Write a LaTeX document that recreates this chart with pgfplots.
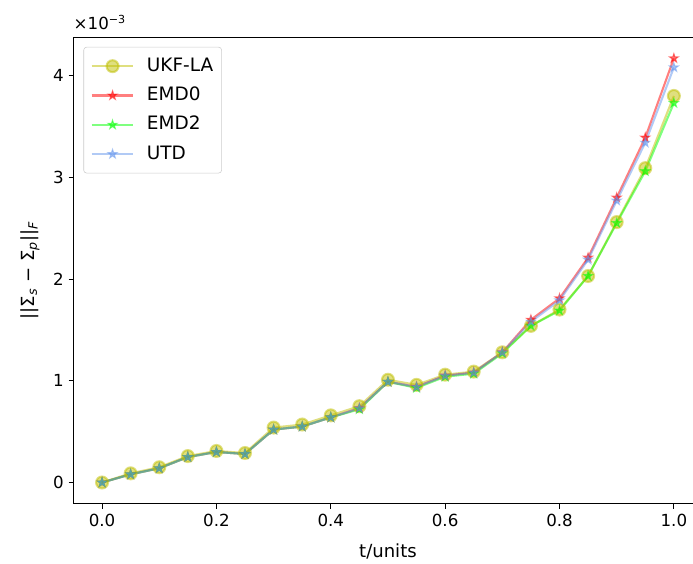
\documentclass[border=0pt]{standalone}
\usepackage{fontspec}
\setmainfont{DejaVu Sans}
\usepackage{pgfplots}
\pgfplotsset{compat=1.18}
\usetikzlibrary{calc}
\definecolor{ukf}{rgb}{0.75,0.75,0}
\definecolor{emdr}{rgb}{1,0,0}
\definecolor{emdg}{rgb}{0,1,0}
\definecolor{utd}{rgb}{0.392,0.584,0.929}
\pgfdeclareplotmark{fstar}{%
  \pgfpathmoveto{\pgfpointpolar{90}{\pgfplotmarksize}}%
  \pgfpathlineto{\pgfpointpolar{126}{0.382\pgfplotmarksize}}%
  \pgfpathlineto{\pgfpointpolar{162}{\pgfplotmarksize}}%
  \pgfpathlineto{\pgfpointpolar{198}{0.382\pgfplotmarksize}}%
  \pgfpathlineto{\pgfpointpolar{234}{\pgfplotmarksize}}%
  \pgfpathlineto{\pgfpointpolar{270}{0.382\pgfplotmarksize}}%
  \pgfpathlineto{\pgfpointpolar{306}{\pgfplotmarksize}}%
  \pgfpathlineto{\pgfpointpolar{342}{0.382\pgfplotmarksize}}%
  \pgfpathlineto{\pgfpointpolar{18}{\pgfplotmarksize}}%
  \pgfpathlineto{\pgfpointpolar{54}{0.382\pgfplotmarksize}}%
  \pgfpathclose
  \pgfusepathqfillstroke}
\pgfplotstableread{
t ukf emd0 emd2 utd
0.00 0.00 0.00 0.00 0.00
0.05 0.09 0.08 0.08 0.08
0.10 0.15 0.14 0.14 0.14
0.15 0.26 0.25 0.25 0.25
0.20 0.31 0.30 0.30 0.30
0.25 0.29 0.28 0.28 0.28
0.30 0.54 0.52 0.52 0.52
0.35 0.57 0.55 0.55 0.55
0.40 0.66 0.64 0.64 0.64
0.45 0.75 0.73 0.72 0.73
0.50 1.01 0.99 0.99 0.99
0.55 0.96 0.94 0.93 0.94
0.60 1.06 1.05 1.04 1.05
0.65 1.09 1.08 1.07 1.08
0.70 1.28 1.28 1.27 1.28
0.75 1.54 1.60 1.54 1.58
0.80 1.70 1.81 1.69 1.79
0.85 2.03 2.21 2.03 2.19
0.90 2.56 2.80 2.55 2.77
0.95 3.09 3.39 3.06 3.34
1.00 3.80 4.17 3.73 4.08
}\datatable
\begin{document}
\begin{tikzpicture}
\begin{axis}[
  name=ax,
  scale only axis,
  width=452.9pt, height=336.2pt,
  xmin=-0.05, xmax=1.05,
  ymin=-0.21, ymax=4.38,
  xtick={0,0.2,0.4,0.6,0.8,1.0},
  ytick={0,1,2,3,4},
  xticklabel style={/pgf/number format/.cd,fixed,fixed zerofill,precision=1},
  /pgf/number format/assume math mode=true,
  tick align=outside,
  xtick pos=bottom, ytick pos=left,
  major tick length=3.5pt,
  tick style={black, line width=0.6pt},
  axis line style={line width=0.6pt},
  ticklabel style={font=\fontsize{12}{14}\selectfont},
  label style={font=\fontsize{13}{15}\selectfont},
  xlabel={t/units},
  ylabel={||Σ\textsubscript{\textit{s}} − Σ\textsubscript{\textit{p}}||\textsubscript{\textit{F}}},
  xlabel style={yshift=-6pt},
  ylabel style={yshift=3pt},
  legend cell align=left,
  legend style={at={(0,1)}, anchor=north west, xshift=7.2pt, yshift=-7.2pt,
    draw=black!20, rounded corners=2pt, fill=white, fill opacity=0.8, text opacity=1,
    font=\fontsize{13.3}{15}\selectfont, inner xsep=5pt, inner ysep=6.5pt,
    nodes={inner sep=1pt, text height=9.7pt, text depth=2.6pt},
    row sep=6.8pt, /tikz/every odd column/.append style={column sep=8pt}},
  legend image code/.code={\draw[mark repeat=2,mark phase=2] plot coordinates {(0pt,0pt) (15pt,0pt) (30pt,0pt)};},
]
\addplot[ukf, opacity=0.5, line width=1.5pt, mark=*, mark size=4.3pt, mark options={solid}] table[x=t,y=ukf]{\datatable};
\addlegendentry{UKF-LA}
\addplot[emdr, opacity=0.5, line width=1.5pt, mark=fstar, mark size=3.3pt, mark options={solid,fill=emdr,line width=0.8pt}] table[x=t,y=emd0]{\datatable};
\addlegendentry{EMD0}
\addplot[emdg, opacity=0.5, line width=1.5pt, mark=fstar, mark size=3.3pt, mark options={solid,fill=emdg,line width=0.8pt}] table[x=t,y=emd2]{\datatable};
\addlegendentry{EMD2}
\addplot[utd, opacity=0.5, line width=1.5pt, mark=fstar, mark size=3.3pt, mark options={solid,fill=utd,line width=0.8pt}] table[x=t,y=utd]{\datatable};
\addlegendentry{UTD}
\end{axis}
\node[anchor=south west, inner sep=0pt, font=\fontsize{12}{14}\selectfont] at ($(ax.north west)+(0pt,5pt)$) {×10\textsuperscript{−3}};
\pgfresetboundingbox
\useasboundingbox ($(ax.south west)+(-52.9pt,-43.2pt)$) rectangle ($(ax.north east)+(-6.8pt,26.6pt)$);
\end{tikzpicture}
\end{document}
